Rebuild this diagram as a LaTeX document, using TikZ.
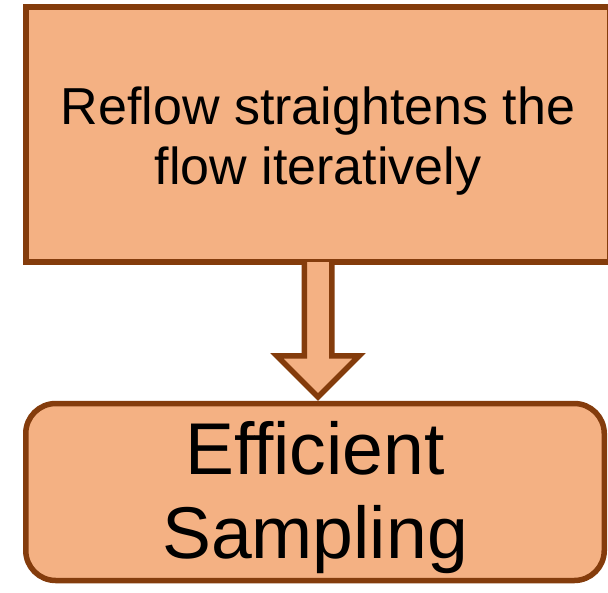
\documentclass[tikz,border=0pt]{standalone}
\usepackage{fontspec}
\setmainfont{Liberation Sans}
\usetikzlibrary{calc}
\definecolor{boxfill}{HTML}{F4B183}
\definecolor{boxline}{HTML}{843C0C}
\tikzset{
  stagebox/.style={draw=boxline, fill=boxfill, line width=0.145cm, align=center, inner sep=0pt, text depth=0pt},
  blockarrow/.style={draw=boxline, fill=boxfill, line width=0.145cm, line join=miter},
}
\begin{document}
\begin{tikzpicture}
            \useasboundingbox (0.000000,0.000000) rectangle (16.026527,-15.604777);
            {
            % Drawing box reflow
            \node [stagebox, minimum width=15.393901cm, minimum height=6.721652cm, text height=74.25pt,
                   font=\fontsize{39}{45}\selectfont] (reflow) at (8.382296,-3.545342)
                  {Reflow straightens the\\flow iteratively};%

            % Drawing box sampling
            \node [stagebox, rounded corners=0.790783cm, minimum width=15.248924cm, minimum height=4.665617cm,
                   text height=99pt, font=\fontsize{55}{63}\selectfont] (sampling) at (8.303217,-12.968835)
                  {Efficient\\Sampling};%

            % Drawing block arrow reflow -> sampling (open at the top)
            \draw [blockarrow] let \p1=(reflow.south), \p2=(sampling.north) in
                  (\x1-0.362442cm,\y1+0.070000cm) -- (\x1-0.362442cm,\y2+1.180736cm)
                  -- (\x1-1.080736cm,\y2+1.180736cm) -- (\x1,\y2+0.100000cm)
                  -- (\x1+1.080736cm,\y2+1.180736cm) -- (\x1+0.362442cm,\y2+1.180736cm)
                  -- (\x1+0.362442cm,\y1+0.070000cm);%
            }
        \end{tikzpicture}
\end{document}
